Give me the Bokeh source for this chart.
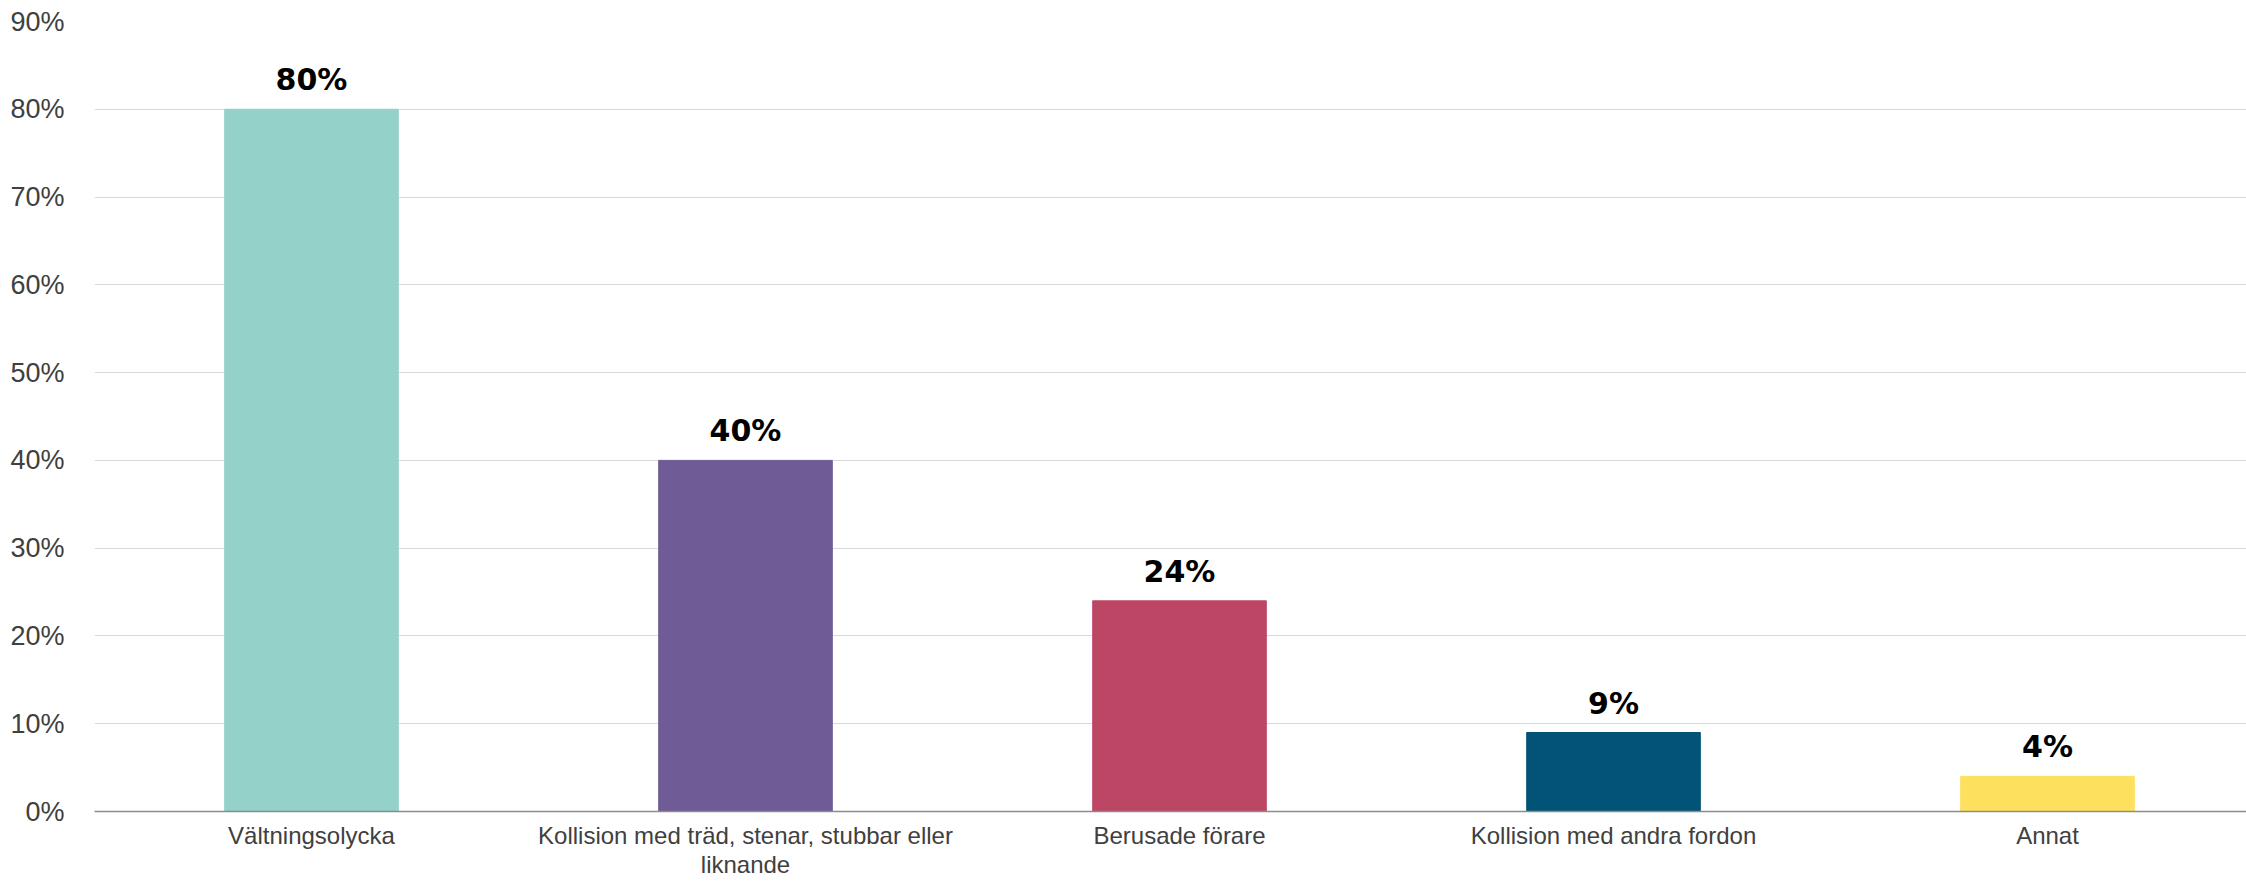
from bokeh.plotting import figure
from bokeh.models import ColumnDataSource, Range1d, FixedTicker, PrintfTickFormatter
from bokeh.core.properties import value
from bokeh.embed import file_html
from bokeh.resources import INLINE

categories = ["Vältningsolycka",
              "Kollision med träd, stenar, stubbar eller\nliknande",
              "Berusade förare",
              "Kollision med andra fordon",
              "Annat"]
values = [80, 40, 24, 9, 4]
colors = ["#94D1C9", "#6F5B95", "#BC4664", "#025376", "#FEE05F"]
y_ticks = [0, 10, 20, 30, 40, 50, 60, 70, 80, 90]

xs = list(range(len(categories)))
src = ColumnDataSource(dict(x=xs, top=values, color=colors,
                            label=[f"{v}%" for v in values]))

p = figure(width=2246, height=881, output_backend="svg", toolbar_location=None,
           x_range=Range1d(-0.5, 4.4585), y_range=Range1d(0, 90),
           min_border_left=94, min_border_right=0, min_border_top=21,
           min_border_bottom=70)
p.outline_line_color = None
p.background_fill_color = "white"
p.border_fill_color = "white"

p.vbar(x="x", top="top", width=0.4, bottom=0, color="color", source=src)
p.text(x="x", y="top", text="label", source=src, text_align="center",
       text_baseline="bottom", y_offset=-12, text_font=value("DejaVu Sans"),
       text_font_style="bold", text_font_size="30px", text_color="black")

p.xgrid.grid_line_color = None
p.ygrid.grid_line_color = "#D9D9D9"
p.ygrid.grid_line_width = 1
p.ygrid.ticker = FixedTicker(ticks=y_ticks)

p.yaxis.ticker = FixedTicker(ticks=y_ticks)
p.yaxis.formatter = PrintfTickFormatter(format="%d%%")
p.yaxis.axis_line_color = None
p.yaxis.major_tick_line_color = None
p.yaxis.minor_tick_line_color = None
p.yaxis.major_label_text_font = "Liberation Sans"
p.yaxis.major_label_text_font_size = "27px"
p.yaxis.major_label_text_color = "#404040"
p.yaxis.major_label_standoff = 24

p.xaxis.ticker = FixedTicker(ticks=xs)
p.xaxis.major_label_overrides = {i: c for i, c in zip(xs, categories)}
p.xaxis.axis_line_color = "#8C8C8C"
p.xaxis.axis_line_width = 1.5
p.xaxis.major_tick_line_color = None
p.xaxis.minor_tick_line_color = None
p.xaxis.major_label_text_font = "Liberation Sans"
p.xaxis.major_label_text_font_size = "24px"
p.xaxis.major_label_text_line_height = 1.1
p.xaxis.major_label_text_color = "#404040"
p.xaxis.major_label_standoff = 4

open("out.html", "w").write(file_html(p, INLINE))
